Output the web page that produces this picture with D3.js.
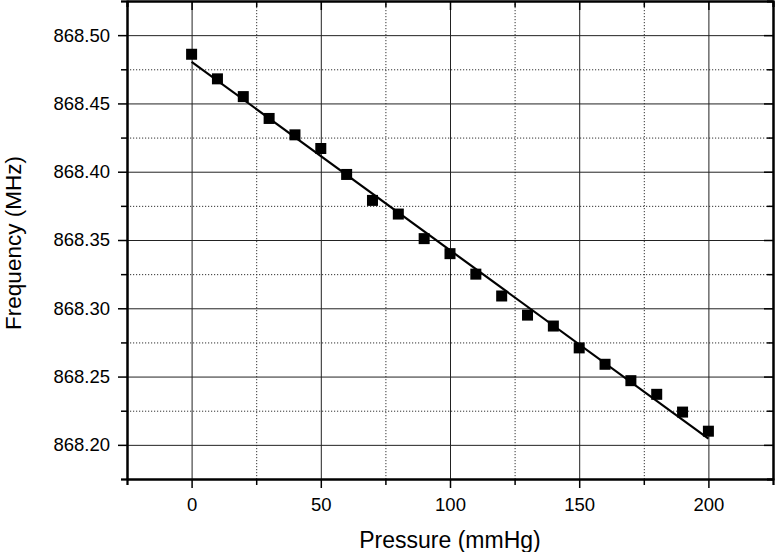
<!DOCTYPE html>
<meta charset="utf-8">
<style>
    body { margin: 0; background: #fff; }
    text { font-family: "Liberation Sans", Arial, sans-serif; fill: #000; }
    .axis path { stroke: #000; stroke-width: 2; }
    .axis line { stroke: #000; stroke-width: 1.5; }
    .axis text { font-size: 18.5px; }
    .grid line { stroke: #222; stroke-width: 1; }
    .grid path { display: none; }
    .grid--minor line { stroke: #333; stroke-dasharray: 1.2, 1.8; }
</style>
<svg width="776" height="552"></svg>
<script src="https://d3js.org/d3.v7.min.js"></script>
<script>

    // pressure (mmHg) and measured frequency (MHz)
    var pressure = [0, 10, 20, 30, 40, 50, 60, 70, 80, 90, 100, 110, 120, 130, 140, 150, 160, 170, 180, 190, 200];
    var frequency = [868.486, 868.468, 868.455, 868.439, 868.427, 868.417, 868.398, 868.379, 868.369, 868.351,
                     868.340, 868.325, 868.309, 868.295, 868.287, 868.271, 868.259, 868.247, 868.237, 868.224, 868.210];

    var xMajor = [0, 50, 100, 150, 200],
        xMinor = [-25, 25, 75, 125, 175, 225],
        yMajor = [868.20, 868.25, 868.30, 868.35, 868.40, 868.45, 868.50],
        yMinor = [868.175, 868.225, 868.275, 868.325, 868.375, 868.425, 868.475, 868.525];

    var svg = d3.select("svg"),
        margin = {top: 1, right: 3, bottom: 73, left: 127},
        width = +svg.attr("width") - margin.left - margin.right,
        height = +svg.attr("height") - margin.top - margin.bottom;

    var x = d3.scaleLinear().domain([-25, 225]).range([0, width]),
        y = d3.scaleLinear().domain([868.175, 868.525]).range([height, 0]);

    var g = svg.append("g")
        .attr("transform", "translate(" + margin.left + "," + margin.top + ")");

    // grid
    g.append("g").attr("class", "grid grid--minor")
        .call(d3.axisBottom(x).tickValues(xMinor).tickSize(height).tickFormat(""));
    g.append("g").attr("class", "grid grid--minor")
        .call(d3.axisRight(y).tickValues(yMinor).tickSize(width).tickFormat(""));
    g.append("g").attr("class", "grid")
        .call(d3.axisBottom(x).tickValues(xMajor).tickSize(height).tickFormat(""));
    g.append("g").attr("class", "grid")
        .call(d3.axisRight(y).tickValues(yMajor).tickSize(width).tickFormat(""));

    // linear fit of the data
    var n = pressure.length,
        mx = d3.mean(pressure),
        my = d3.mean(frequency),
        sxy = d3.sum(pressure, function(p, i) { return (p - mx) * (frequency[i] - my); }),
        sxx = d3.sum(pressure, function(p) { return (p - mx) * (p - mx); }),
        slope = sxy / sxx,
        icpt = my - slope * mx;
    var fitX = [pressure[0], pressure[n - 1]];

    g.append("path")
        .datum(fitX)
        .attr("fill", "none")
        .attr("stroke", "#000")
        .attr("stroke-width", 2.2)
        .attr("d", d3.line()
            .x(function(d) { return x(d); })
            .y(function(d) { return y(icpt + slope * d); }));

    var s = 11;
    g.selectAll(".pt")
        .data(pressure)
        .enter().append("rect")
        .attr("class", "pt")
        .attr("x", function(d) { return x(d) - s / 2; })
        .attr("y", function(d, i) { return y(frequency[i]) - s / 2; })
        .attr("width", s)
        .attr("height", s)
        .attr("fill", "#000");

    // axes: bottom/left ticks outward, top/right inward
    g.append("g").attr("class", "axis")
        .attr("transform", "translate(0," + height + ")")
        .call(d3.axisBottom(x).tickValues(xMinor).tickSize(6).tickFormat(""));
    g.append("g").attr("class", "axis")
        .attr("transform", "translate(0," + height + ")")
        .call(d3.axisBottom(x).tickValues(xMajor).tickSizeInner(9).tickSizeOuter(0).tickPadding(10));

    g.append("g").attr("class", "axis")
        .call(d3.axisLeft(y).tickValues(yMinor).tickSize(6).tickFormat(""));
    g.append("g").attr("class", "axis")
        .call(d3.axisLeft(y).tickValues(yMajor).tickSizeInner(9).tickSizeOuter(0).tickPadding(8)
            .tickFormat(d3.format(".2f")));

    g.append("g").attr("class", "axis")
        .call(d3.axisTop(x).tickValues(xMinor).tickSize(-6).tickFormat(""));
    g.append("g").attr("class", "axis")
        .call(d3.axisTop(x).tickValues(xMajor).tickSizeInner(-9).tickSizeOuter(0).tickFormat(""));

    g.append("g").attr("class", "axis")
        .attr("transform", "translate(" + width + ",0)")
        .call(d3.axisRight(y).tickValues(yMinor).tickSize(-6).tickFormat(""));
    g.append("g").attr("class", "axis")
        .attr("transform", "translate(" + width + ",0)")
        .call(d3.axisRight(y).tickValues(yMajor).tickSizeInner(-9).tickSizeOuter(0).tickFormat(""));

    // titles
    svg.append("text")
        .attr("x", margin.left + width / 2)
        .attr("y", 548)
        .attr("text-anchor", "middle")
        .style("font-size", "23px")
        .text("Pressure (mmHg)");

    svg.append("text")
        .attr("transform", "translate(21," + (margin.top + height / 2 + 3) + ") rotate(-90)")
        .attr("text-anchor", "middle")
        .style("font-size", "22.5px")
        .text("Frequency (MHz)");
</script>
